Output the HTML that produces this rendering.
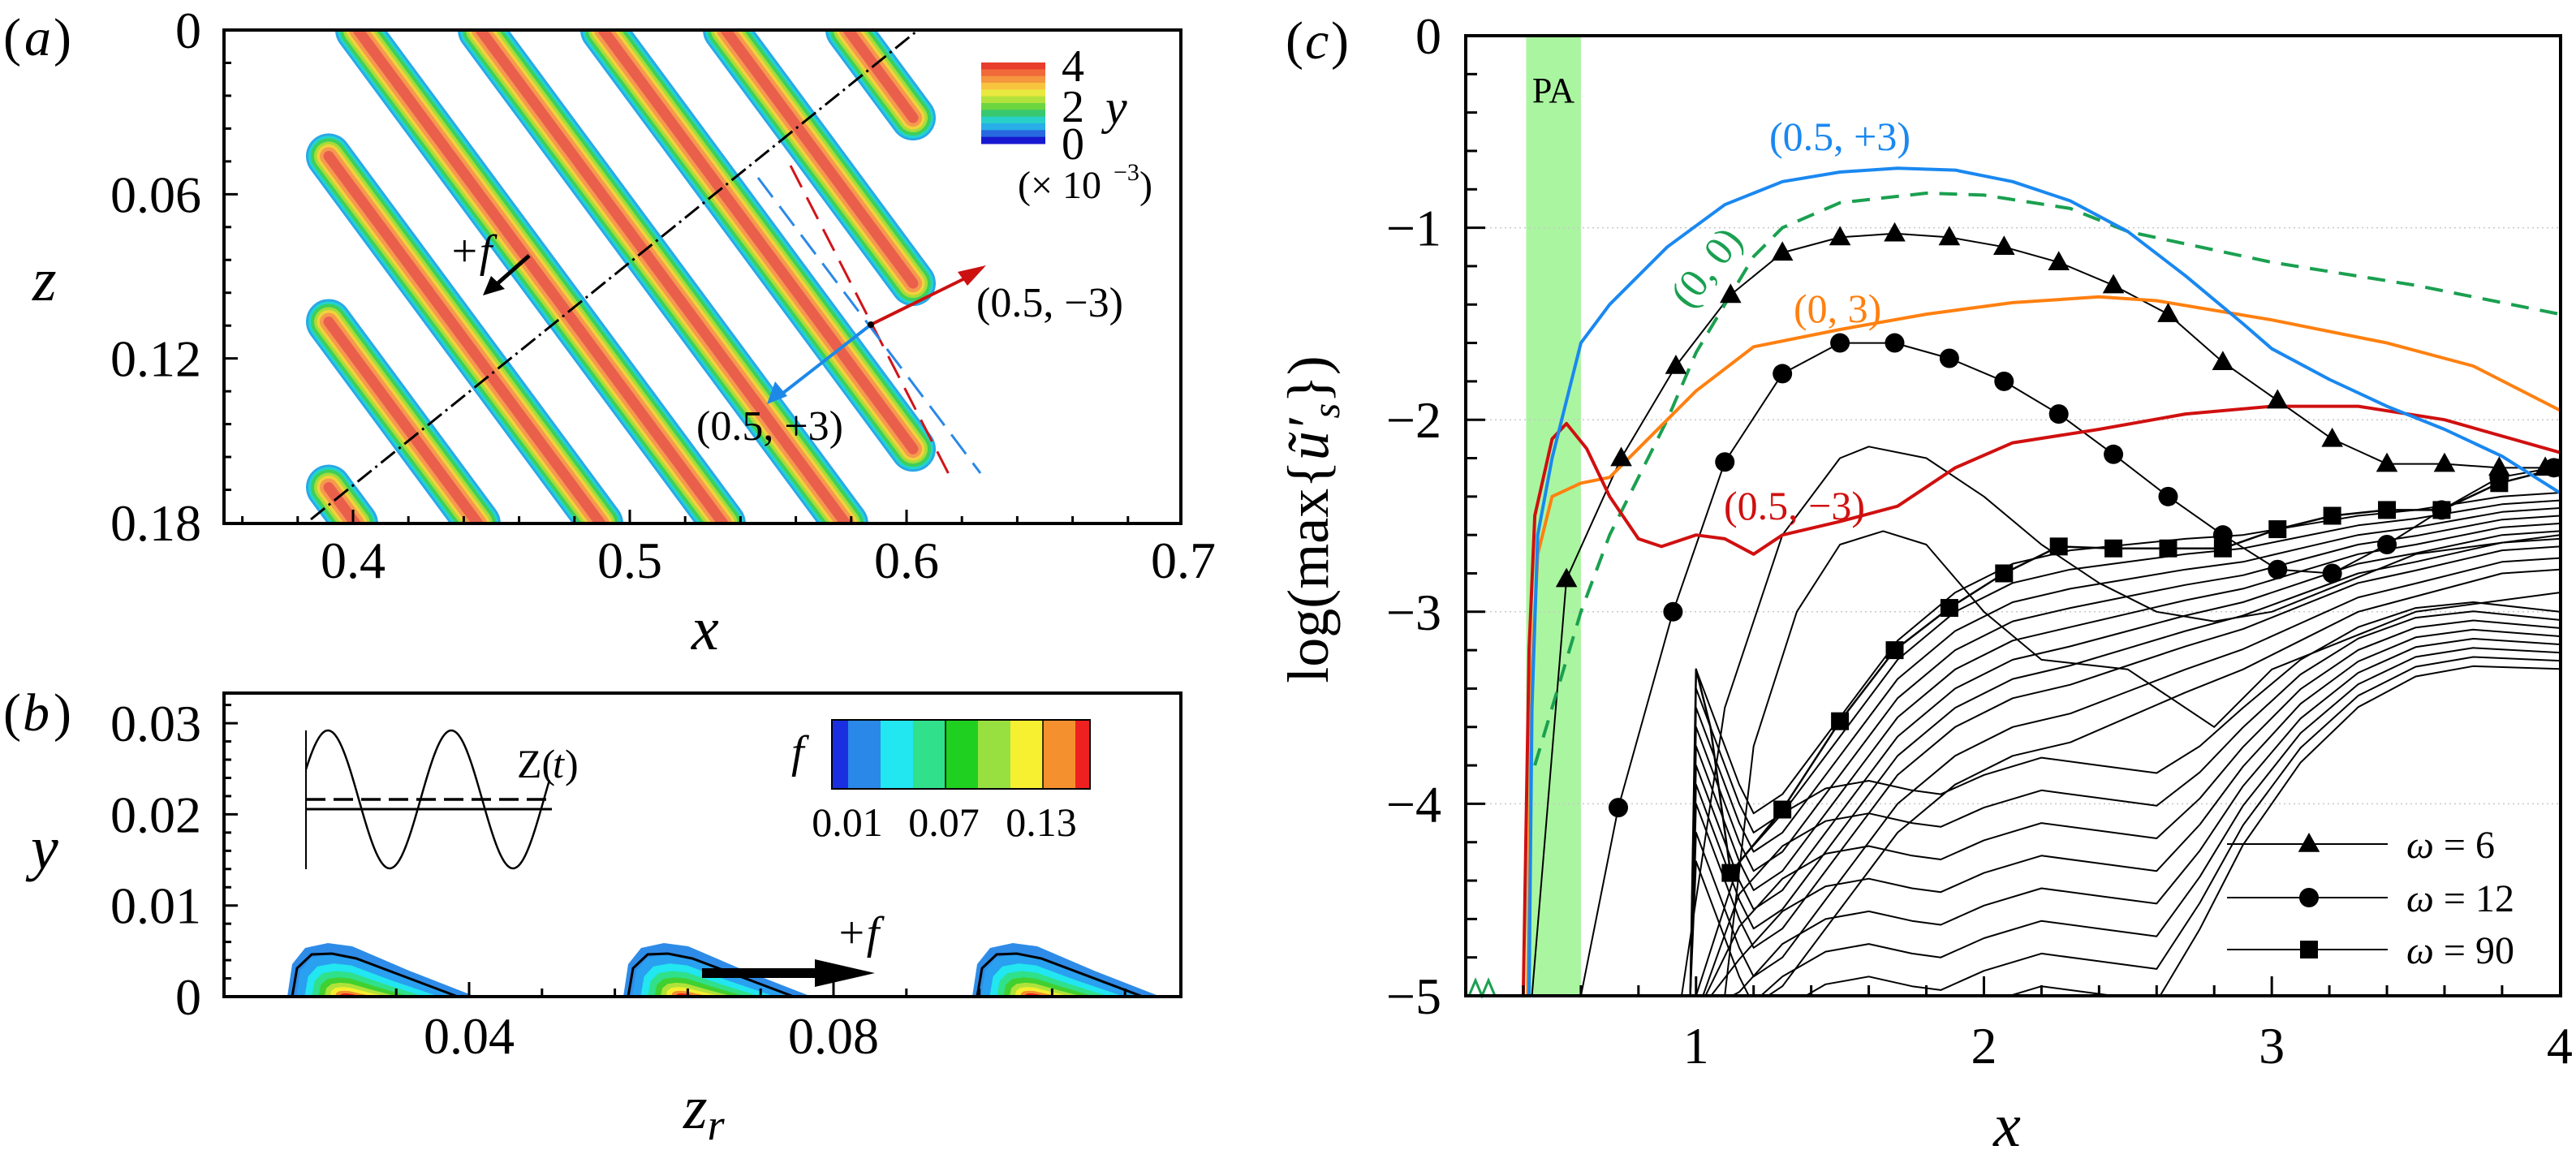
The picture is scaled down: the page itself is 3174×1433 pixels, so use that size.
<!DOCTYPE html>
<html><head><meta charset="utf-8"><style>
html,body{margin:0;padding:0;background:#fff}
svg{display:block}
text{font-family:"Liberation Serif","DejaVu Serif",serif;fill:#000}
</style></head><body>
<svg id="fig" xmlns="http://www.w3.org/2000/svg" width="3174" height="1433" viewBox="0 0 3174 1433" font-family="Liberation Serif, serif">
<defs>
<clipPath id="clipA"><rect x="276" y="37" width="1179" height="608"/></clipPath>
<clipPath id="clipB"><rect x="276" y="854" width="1179" height="374"/></clipPath>
<clipPath id="clipC"><rect x="1806" y="44" width="1349" height="1183"/></clipPath>
</defs>
<g id="panelA"></g>
<g id="panelB"></g>
<g id="panelC"></g>
</svg>
<script>
// ---------- Panel (c) data ----------
const blueX=[0.42,0.43,0.45,0.5,0.6,0.7,0.9,1.1,1.3,1.5,1.7,1.9,2.1,2.3,2.5,2.7,2.9,3.0,3.2,3.4,3.6,3.8,4.0];
const blueY=[-5,-3.5,-2.6,-2.2,-1.6,-1.4,-1.1,-0.88,-0.76,-0.71,-0.69,-0.7,-0.76,-0.86,-1.02,-1.25,-1.5,-1.63,-1.79,-1.93,-2.05,-2.19,-2.38];
const greenX=[0.44,0.5,0.6,0.7,0.8,0.9,1.0,1.1,1.2,1.3,1.5,1.8,2.0,2.3,2.5,3.0,3.5,4.0];
const greenY=[-3.8,-3.5,-3.0,-2.6,-2.3,-2.0,-1.65,-1.4,-1.15,-1.0,-0.87,-0.82,-0.83,-0.9,-1.02,-1.18,-1.3,-1.45];
const orangeX=[0.415,0.43,0.45,0.5,0.6,0.7,0.8,1.0,1.2,1.5,1.8,2.1,2.4,2.6,3.0,3.4,3.7,4.0];
const orangeY=[-5,-3.3,-2.7,-2.4,-2.33,-2.3,-2.15,-1.85,-1.62,-1.53,-1.45,-1.39,-1.36,-1.38,-1.48,-1.6,-1.72,-1.95];
const redX=[0.4,0.42,0.44,0.5,0.55,0.62,0.7,0.8,0.88,1.0,1.1,1.2,1.3,1.5,1.7,1.9,2.1,2.4,2.7,3.0,3.3,3.6,4.0];
const redY=[-5,-3.2,-2.5,-2.1,-2.02,-2.15,-2.4,-2.62,-2.66,-2.6,-2.62,-2.7,-2.6,-2.53,-2.45,-2.25,-2.12,-2.05,-1.97,-1.93,-1.93,-2.0,-2.17];
const w6X=[0.43,0.55,0.74,0.93,1.12,1.3,1.5,1.69,1.88,2.07,2.26,2.45,2.64,2.83,3.02,3.21,3.4,3.6,3.79,3.95];
const w6Y=[-5,-2.83,-2.2,-1.72,-1.35,-1.13,-1.05,-1.03,-1.05,-1.1,-1.18,-1.3,-1.45,-1.7,-1.9,-2.1,-2.23,-2.23,-2.25,-2.25];
const w12X=[0.6,0.73,0.92,1.1,1.3,1.5,1.69,1.88,2.07,2.26,2.45,2.64,2.83,3.02,3.21,3.4,3.59,3.79,3.98];
const w12Y=[-5,-4.02,-3.0,-2.22,-1.76,-1.6,-1.6,-1.68,-1.8,-1.97,-2.18,-2.4,-2.6,-2.78,-2.8,-2.65,-2.47,-2.3,-2.25];
const w90X=[0.98,1.0,1.05,1.12,1.3,1.5,1.69,1.88,2.07,2.26,2.45,2.64,2.83,3.02,3.21,3.4,3.59,3.79,4.0];
const w90Y=[-5,-3.3,-3.6,-4.36,-4.03,-3.57,-3.2,-2.98,-2.8,-2.66,-2.67,-2.67,-2.67,-2.57,-2.5,-2.47,-2.47,-2.33,-2.25];
const hump1X=[0.95,1.1,1.3,1.5,1.6,1.8,2.0,2.2,2.4,2.6,2.8,3.0,3.5,4.0];
const hump1Y=[-5,-3.5,-2.6,-2.2,-2.14,-2.2,-2.4,-2.65,-2.85,-3.0,-3.05,-3.0,-2.7,-2.6];
const hump2X=[1.1,1.2,1.35,1.5,1.65,1.8,2.0,2.2,2.5,2.8,3.0,3.5,4.0];
const hump2Y=[-5,-3.7,-3.0,-2.65,-2.58,-2.65,-3.0,-3.25,-3.3,-3.6,-3.3,-3.0,-2.9];
const upperX=[0.98,1.0,1.05,1.15,1.2,1.3,1.5,1.7,1.9,2.1,2.3,2.5,2.7,2.9,3.1,3.3,3.5,3.8,4.0];
const upperY=[-5,-3.3,-3.5,-3.9,-4.05,-3.95,-3.55,-3.15,-2.9,-2.75,-2.68,-2.65,-2.62,-2.6,-2.55,-2.5,-2.47,-2.4,-2.38];
const upperW=[0,1,1,1,1,1,1,1,1,1,1,0.9,0.8,0.7,0.6,0.5,0.45,0.4,0.4];
const upperOff=[0,-0.1,-0.2,-0.3,-0.4,-0.5,-0.6,-0.7,-0.85,-1.0];
const lowerX=[1.0,1.15,1.3,1.45,1.6,1.75,1.85,2.0,2.2,2.4,2.6,2.75,2.9,3.1,3.3,3.5,3.7,4.0];
const lowerY=[-5,-4.3,-4.05,-3.92,-3.88,-3.93,-3.95,-3.85,-3.76,-3.8,-3.84,-3.7,-3.5,-3.25,-3.08,-2.98,-2.95,-3.0];
const lowerW=[1,1,1,1,1,1,1,1,1,1,1,0.8,0.6,0.45,0.35,0.3,0.28,0.25];
const lowerOff=[0,-0.17,-0.34,-0.51,-0.68,-0.85,-1.02,-1.19];
const cYTicks=[0,-1,-2,-3,-4,-5];
const cXTicks=[1,2,3,4];

// ---------- Panel (a)/(b) axis data ----------
const aXTicks=[0.4,0.5,0.6,0.7];
const aZTicks=[0,0.06,0.12,0.18];
const bYTicks=[0,0.01,0.02,0.03];
const bXTicks=[0.04,0.08];

const NS="http://www.w3.org/2000/svg";
function mk(parent,tag,attrs,txt){const e=document.createElementNS(NS,tag);for(const k in attrs)e.setAttribute(k,attrs[k]);if(tag==='text')e.setAttribute('font-family','Liberation Serif, serif');if(txt!==undefined)e.textContent=txt;parent.appendChild(e);return e;}

const xa=v=>435+(v-0.4)*3410, za=v=>37+v*(607/0.18);
const xb=v=>578+(v-0.04)*11225, yb=v=>1228-v*11230;
const xc=v=>1806+(v-0.2)*354.7, yc=v=>44-v*236.6;

// ================= Panel A =================
const A=document.getElementById('panelA');
const aClip=mk(A,'g',{'clip-path':'url(#clipA)'});


const s=0.74, stripeCols=[['#2aa8e8',56],['#22d4d0',50],['#3ecf5a',44],['#a6dc3a',36],['#f2d23c',29],['#f59a4e',22],['#ea5f4c',13]];
for(let k=-3;k<=4;k++){
  const c=441+151*k;
  let x1=c, y1=37, x2=c+s*608, y2=645;
  if(x1<405){y1=37+(405-c)/s;x1=405;}
  if(x2>1125){y2=37+(1125-c)/s;x2=1125;}
  if(y1>=y2) continue;
  const g=mk(aClip,'g',{});
  
  
  stripeCols.forEach(([col,w])=>mk(g,'line',{x1,y1,x2,y2,stroke:col,'stroke-width':w,'stroke-linecap':'round'}));
}
mk(A,'line',{x1:383,y1:640,x2:1130,y2:38,stroke:'#000','stroke-width':3,'stroke-dasharray':'22 6 3 6'});
mk(A,'line',{x1:974,y1:204,x2:1173,y2:592,stroke:'#d0141a','stroke-width':3,'stroke-dasharray':'30 14'});
mk(A,'line',{x1:934,y1:219,x2:1208,y2:583,stroke:'#2a88e8','stroke-width':3,'stroke-dasharray':'30 14'});
mk(A,'line',{x1:1073,y1:400,x2:1195,y2:340,stroke:'#cc1010','stroke-width':4});
mk(A,'polygon',{points:'1215,327 1180,335 1192,352',fill:'#cc1010'});
mk(A,'line',{x1:1073,y1:400,x2:960,y2:488,stroke:'#1e88e8','stroke-width':4});
mk(A,'polygon',{points:'945,498 955,470 970,488',fill:'#1e88e8'});
mk(A,'circle',{cx:1073,cy:400,r:4,fill:'#000'});
mk(A,'line',{x1:652,y1:315,x2:610,y2:352,stroke:'#000','stroke-width':5});
mk(A,'polygon',{points:'595,364 605,340 622,356',fill:'#000'});
mk(A,'text',{x:553,y:328,'font-size':56,'font-style':'italic'},'+f');
mk(A,'text',{x:1203,y:390,'font-size':52},'(0.5, −3)');
mk(A,'text',{x:858,y:542,'font-size':52},'(0.5, +3)');
const cbA=mk(A,'g',{});


const cbCols=['#e83c2c','#f06a3a','#f5973e','#f8c43e','#e8e840','#b4e23c','#6cd640','#38c870','#28d0c8','#28aee8','#2868e0','#1818d0'];
cbCols.forEach((c,i)=>mk(cbA,'rect',{x:1209,y:77+i*(100/12),width:79,height:100/12+0.5,fill:c}));
mk(cbA,'text',{x:1308,y:100,'font-size':56},'4');
mk(cbA,'text',{x:1308,y:150,'font-size':56},'2');
mk(cbA,'text',{x:1308,y:196,'font-size':56},'0');
mk(cbA,'text',{x:1362,y:152,'font-size':60,'font-style':'italic'},'y');
mk(cbA,'text',{x:1254,y:244,'font-size':48},'(× 10');
mk(cbA,'text',{x:1372,y:222,'font-size':30},'−3');
mk(cbA,'text',{x:1404,y:244,'font-size':48},')');
mk(A,'rect',{x:276,y:37,width:1179,height:608,fill:'none',stroke:'#000','stroke-width':4});
for(let v=0.36;v<=0.699;v+=0.02){const X=xa(v);const maj=Math.abs((v*10)-Math.round(v*10))<0.01;mk(A,'line',{x1:X,y1:645,x2:X,y2:maj?628:636,stroke:'#000','stroke-width':3});}
for(let i=1;i<15;i++){const Y=za(i*0.012);const maj=i%5===0;mk(A,'line',{x1:276,y1:Y,x2:maj?293:285,y2:Y,stroke:'#000','stroke-width':3});}
aXTicks.forEach(v=>{const t=mk(A,'text',{x:xa(v),y:712,'font-size':64,'text-anchor':'middle'},String(v));});
aZTicks.forEach(v=>{const t=mk(A,'text',{x:248,y:za(v)+22,'font-size':64,'text-anchor':'end'},String(v));});
mk(A,'text',{x:40,y:370,'font-size':76,'font-style':'italic'},'z');
mk(A,'text',{x:852,y:800,'font-size':76,'font-style':'italic'},'x');
mk(A,'text',{x:4,y:68,'font-size':66},'(');
mk(A,'text',{x:30,y:68,'font-size':66,'font-style':'italic'},'a');
mk(A,'text',{x:66,y:68,'font-size':66},')');

// ================= Panel B =================
const B=document.getElementById('panelB');
const bg=mk(B,'g',{'clip-path':'url(#clipB)'});
const humpLayers=[['#2e8ce8',1],['#2aa0f0',0.8],['#22e6f0',0.62],['#30e08a',0.48],['#40d030',0.36],['#b0e23a',0.26],['#f6ee30',0.18],['#f5902e',0.11],['#ee2020',0.06]];
[354,768,1198].forEach(st=>{
  const g=mk(bg,'g',{});
  
  
  const base=[[0,0],[6,-40],[22,-60],[50,-66],[80,-62],[150,-32],[232,0]];
  humpLayers.forEach(([c,k])=>{
    const ox=st+75, pts=base.map(([dx,dy])=>`${ox+(st+dx-ox)*Math.pow(k,0.7)},${1228+dy*k}`).join(' ');
    mk(g,'polygon',{points:pts,fill:c});
  });
  const cp=[[6,0],[12,-35],[30,-52],[55,-53],[85,-47],[210,0]].map(([dx,dy])=>`${st+dx},${1228+dy}`).join(' ');
  mk(g,'polyline',{points:cp,fill:'none',stroke:'#000','stroke-width':3});
});
mk(B,'line',{x1:865,y1:1199,x2:1010,y2:1199,stroke:'#000','stroke-width':12});
mk(B,'polygon',{points:'1004,1182 1078,1199 1004,1216',fill:'#000'});
mk(B,'text',{x:1030,y:1168,'font-size':56,'font-style':'italic'},'+f');
const ins=mk(B,'g',{});


mk(ins,'line',{x1:377,y1:900,x2:377,y2:1071,stroke:'#000','stroke-width':2});
let d='';for(let x=377;x<=678;x+=2){const y=985-85*Math.sin((x-377)/152*2*Math.PI+0.45);d+=(d?'L':'M')+x+','+y;}
mk(ins,'path',{d,fill:'none',stroke:'#000','stroke-width':2.5});
mk(ins,'line',{x1:377,y1:985,x2:678,y2:985,stroke:'#000','stroke-width':3.5,'stroke-dasharray':'24 10'});
mk(ins,'line',{x1:377,y1:997,x2:680,y2:997,stroke:'#000','stroke-width':3});
mk(ins,'text',{x:637,y:958,'font-size':50},'Z(');
mk(ins,'text',{x:681,y:958,'font-size':50,'font-style':'italic'},'t');
mk(ins,'text',{x:696,y:958,'font-size':50},')');
const cbB=mk(B,'g',{});


const fCols=['#1a30e0','#2a88e8','#22e6f0','#30e08a','#20d020','#98e040','#f6f030','#f5902e','#ee2020'];
const fW=[20,40,40,40,40,40,40,40,18];
let fx=1025;fCols.forEach((c,i)=>{mk(cbB,'rect',{x:fx,y:887,width:fW[i]+0.5,height:85,fill:c});fx+=fW[i];});
mk(cbB,'rect',{x:1025,y:887,width:318,height:85,fill:'none',stroke:'#000','stroke-width':2});
mk(cbB,'line',{x1:1165,y1:887,x2:1165,y2:972,stroke:'#000','stroke-width':1.5});
mk(cbB,'line',{x1:1285,y1:887,x2:1285,y2:972,stroke:'#000','stroke-width':1.5});
mk(cbB,'text',{x:1044,y:1030,'font-size':50,'text-anchor':'middle'},'0.01');
mk(cbB,'text',{x:1163,y:1030,'font-size':50,'text-anchor':'middle'},'0.07');
mk(cbB,'text',{x:1283,y:1030,'font-size':50,'text-anchor':'middle'},'0.13');
mk(cbB,'text',{x:975,y:945,'font-size':56,'font-style':'italic'},'f');
mk(B,'rect',{x:276,y:854,width:1179,height:374,fill:'none',stroke:'#000','stroke-width':4});
for(let i=-1;i<=12;i++){const v=0.04+i*0.008;const X=xb(v);if(X<=278||X>=1453)continue;const maj=i%5===0;mk(B,'line',{x1:X,y1:1228,x2:X,y2:maj?1210:1218,stroke:'#000','stroke-width':3});}
for(let i=1;i<=16;i++){const Y=yb(i*0.002);const maj=i%5===0;mk(B,'line',{x1:276,y1:Y,x2:maj?293:285,y2:Y,stroke:'#000','stroke-width':3});}
bYTicks.forEach(v=>{const t=mk(B,'text',{x:248,y:yb(v)+22,'font-size':64,'text-anchor':'end'},String(v));});
bXTicks.forEach(v=>{const t=mk(B,'text',{x:xb(v),y:1298,'font-size':64,'text-anchor':'middle'},String(v));});
mk(B,'text',{x:38,y:1070,'font-size':76,'font-style':'italic'},'y');
const zr=mk(B,'text',{x:842,y:1390,'font-size':76,'font-style':'italic'});
mk(zr,'tspan',{},'z');mk(zr,'tspan',{'font-size':54,dy:14},'r');
mk(B,'text',{x:4,y:900,'font-size':66},'(');
mk(B,'text',{x:28,y:900,'font-size':66,'font-style':'italic'},'b');
mk(B,'text',{x:66,y:900,'font-size':66},')');

// ================= Panel C =================
const C=document.getElementById('panelC');
mk(C,'rect',{x:xc(0.41),y:44,width:xc(0.6)-xc(0.41),height:1183,fill:'#aaf5a0'});
mk(C,'text',{x:1914,y:126,'font-size':44,'text-anchor':'middle'},'PA');
[-1,-2,-3,-4].forEach(v=>mk(C,'line',{x1:1806,y1:yc(v),x2:3155,y2:yc(v),stroke:'#c8c8c8','stroke-width':1.5,'stroke-dasharray':'2 4'}));
const cg=mk(C,'g',{'clip-path':'url(#clipC)'});
function path(X,Y){return X.map((x,i)=>(i?'L':'M')+xc(x).toFixed(1)+','+yc(Y[i]).toFixed(1)).join('');}
function line(X,Y,stroke,w,name,dash){const p=mk(cg,'path',{d:path(X,Y),fill:'none',stroke,'stroke-width':w,'stroke-linejoin':'round'});if(dash)p.setAttribute('stroke-dasharray',dash);return p;}
upperOff.forEach(o=>{const Y=upperY.map((y,i)=>Math.max(-5.1,y+o*upperW[i]));line(upperX,Y,'#000',2,'mode-curve-upper');});
lowerOff.forEach(o=>{const Y=lowerY.map((y,i)=>Math.max(-5.1,y+o*lowerW[i]));line(lowerX,Y,'#000',2,'mode-curve-lower');});
line(hump1X,hump1Y,'#000',2,'mode-curve-hump');
line(hump2X,hump2Y,'#000',2,'mode-curve-hump');
line(w6X,w6Y,'#000',2,'omega-6-line');
line(w12X,w12Y,'#000',2,'omega-12-line');
line(w90X,w90Y,'#000',2.5,'omega-90-line');
line(greenX,greenY,'#1aa050',4,'mode-0-0','22 14');
line(orangeX,orangeY,'#ff8010',4,'mode-0-3');
line(redX,redY,'#d01010',4,'mode-05-m3');
line(blueX,blueY,'#1a88f0',4,'mode-05-p3');
function tri(g,x,y,r){return mk(g,'polygon',{points:`${x},${y-r} ${x+r*0.95},${y+r*0.7} ${x-r*0.95},${y+r*0.7}`,fill:'#000'});}
w6X.forEach((x,i)=>{if(i===0)return;const p=tri(cg,xc(x),yc(w6Y[i]),14);});
w12X.forEach((x,i)=>{if(i===0)return;const p=mk(cg,'circle',{cx:xc(x),cy:yc(w12Y[i]),r:12,fill:'#000'});});
w90X.forEach((x,i)=>{if(i<3)return;const p=mk(cg,'rect',{x:xc(x)-11,y:yc(w90Y[i])-11,width:22,height:22,fill:'#000'});});
mk(C,'polyline',{points:'1810,1227 1818,1208 1826,1227 1834,1208 1842,1227',fill:'none',stroke:'#1aa050','stroke-width':3});
mk(C,'text',{x:2180,y:185,'font-size':50,style:'fill:#1a88f0'},'(0.5, +3)');
mk(C,'text',{x:2210,y:397,'font-size':50,style:'fill:#ff8010'},'(0, 3)');
mk(C,'text',{x:2124,y:640,'font-size':50,style:'fill:#d01010'},'(0.5, −3)');
mk(C,'text',{x:0,y:0,'font-size':50,style:'fill:#1aa050',transform:'translate(2082,382) rotate(-52)'},'(0, 0)');
const lg=mk(C,'g',{});


const legY=[1040,1106,1170], legL=['6','12','90'];
legY.forEach((y,i)=>{mk(lg,'line',{x1:2744,y1:y,x2:2942,y2:y,stroke:'#000','stroke-width':2});
 if(i===0)tri(lg,2845,y,14);else if(i===1)mk(lg,'circle',{cx:2845,cy:y,r:12,fill:'#000'});else mk(lg,'rect',{x:2834,y:y-11,width:22,height:22,fill:'#000'});
 const t=mk(lg,'text',{x:2965,y:y+17,'font-size':48});mk(t,'tspan',{'font-style':'italic'},'ω');mk(t,'tspan',{},' = '+legL[i]);});
mk(C,'rect',{x:1806,y:44,width:1349,height:1183,fill:'none',stroke:'#000','stroke-width':4});
for(let i=1;i<19;i++){const v=0.2+i*0.2;const X=xc(v);const maj=Math.abs(v-Math.round(v))<0.01;mk(C,'line',{x1:X,y1:1227,x2:X,y2:maj?1203:1214,stroke:'#000','stroke-width':3});}
for(let i=1;i<25;i++){const v=-i*0.2;const Y=yc(v);const maj=i%5===0;mk(C,'line',{x1:1806,y1:Y,x2:maj?1830:1820,y2:Y,stroke:'#000','stroke-width':3});}
cYTicks.forEach(v=>{const t=mk(C,'text',{x:1776,y:yc(v)+22,'font-size':64,'text-anchor':'end'},v<0?'−'+(-v):String(v));});
cXTicks.forEach(v=>{const t=mk(C,'text',{x:xc(v),y:1310,'font-size':64,'text-anchor':'middle'},String(v));});
const xt=mk(C,'text',{x:2473,y:1412,'font-size':76,'font-style':'italic','text-anchor':'middle'},'x');
const yl=mk(C,'text',{x:0,y:0,'font-size':72,'text-anchor':'middle',transform:'translate(1636,640) rotate(-90)'});


mk(yl,'tspan',{},'log(max{');mk(yl,'tspan',{'font-style':'italic'},'ũ′');mk(yl,'tspan',{'font-style':'italic','font-size':48,dy:14},'s');mk(yl,'tspan',{dy:-14},'})');
mk(C,'text',{x:1584,y:72,'font-size':66},'(');
mk(C,'text',{x:1608,y:72,'font-size':66,'font-style':'italic'},'c');
mk(C,'text',{x:1640,y:72,'font-size':66},')');
</script>
</body></html>
